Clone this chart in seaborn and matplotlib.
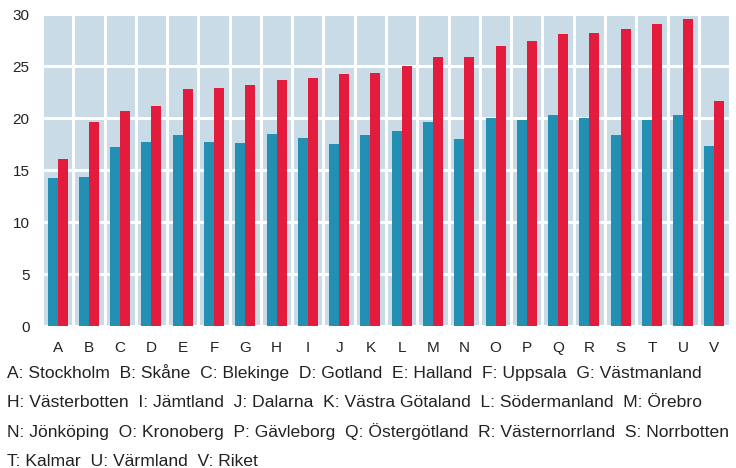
import numpy as np
import matplotlib
matplotlib.use("Agg")
import matplotlib.pyplot as plt
import pandas as pd
import seaborn as sns
from matplotlib.ticker import MultipleLocator

letters = list("ABCDEFGHIJKLMNOPQRSTUV")
serie_bla = [14.2, 14.3, 17.2, 17.7, 18.4, 17.7, 17.6, 18.5, 18.1, 17.5, 18.4, 18.8,
             19.6, 18.0, 20.0, 19.8, 20.3, 20.0, 18.4, 19.8, 20.3, 17.3]
serie_rod = [16.1, 19.6, 20.7, 21.2, 22.8, 22.9, 23.2, 23.7, 23.9, 24.2, 24.3, 25.0,
             25.9, 25.9, 26.9, 27.4, 28.1, 28.2, 28.6, 29.0, 29.5, 21.6]
forklaring = [
    "A: Stockholm  B: Skåne  C: Blekinge  D: Gotland  E: Halland  F: Uppsala  G: Västmanland",
    "H: Västerbotten  I: Jämtland  J: Dalarna  K: Västra Götaland  L: Södermanland  M: Örebro",
    "N: Jönköping  O: Kronoberg  P: Gävleborg  Q: Östergötland  R: Västernorrland  S: Norrbotten",
    "T: Kalmar  U: Värmland  V: Riket",
]

df = pd.DataFrame({
    "lan": letters * 2,
    "varde": serie_bla + serie_rod,
    "serie": ["bla"] * len(letters) + ["rod"] * len(letters),
})

sns.set_style("white")
plt.rcParams["font.family"] = ["Liberation Sans", "DejaVu Sans"]

fig = plt.figure(figsize=(7.36, 4.68), dpi=100)
ax = fig.add_axes([0.057, 0.303, 0.935, 0.667])
ax.set_facecolor("#c8dbe6")

sns.barplot(data=df, x="lan", y="varde", hue="serie", palette=["#238fb3", "#e31c3d"],
            width=0.64, gap=0, saturation=1, legend=False, ax=ax, zorder=3,
            linewidth=0)

ax.set_xlim(-0.5, len(letters) - 0.5)
ax.set_ylim(0, 30)
ax.yaxis.set_major_locator(MultipleLocator(5))
ax.xaxis.set_minor_locator(MultipleLocator(1, offset=0.5))
ax.grid(axis="y", which="major", color="white", lw=2.2, zorder=1)
ax.grid(axis="x", which="minor", color="white", lw=2.2, zorder=1)
ax.set_axisbelow(True)
for s in ax.spines.values():
    s.set_visible(False)
ax.set_xlabel("")
ax.set_ylabel("")
ax.tick_params(which="both", length=0, labelsize=11, colors="#222222")
ax.tick_params(axis="x", pad=11)
ax.tick_params(axis="y", pad=9)

for i, rad in enumerate(forklaring):
    fig.text(0.009, (468 - 373 - i * 29.5) / 468, rad, fontsize=12.6, color="#222222",
             va="center", ha="left")

fig.savefig("out.png", dpi=100)
